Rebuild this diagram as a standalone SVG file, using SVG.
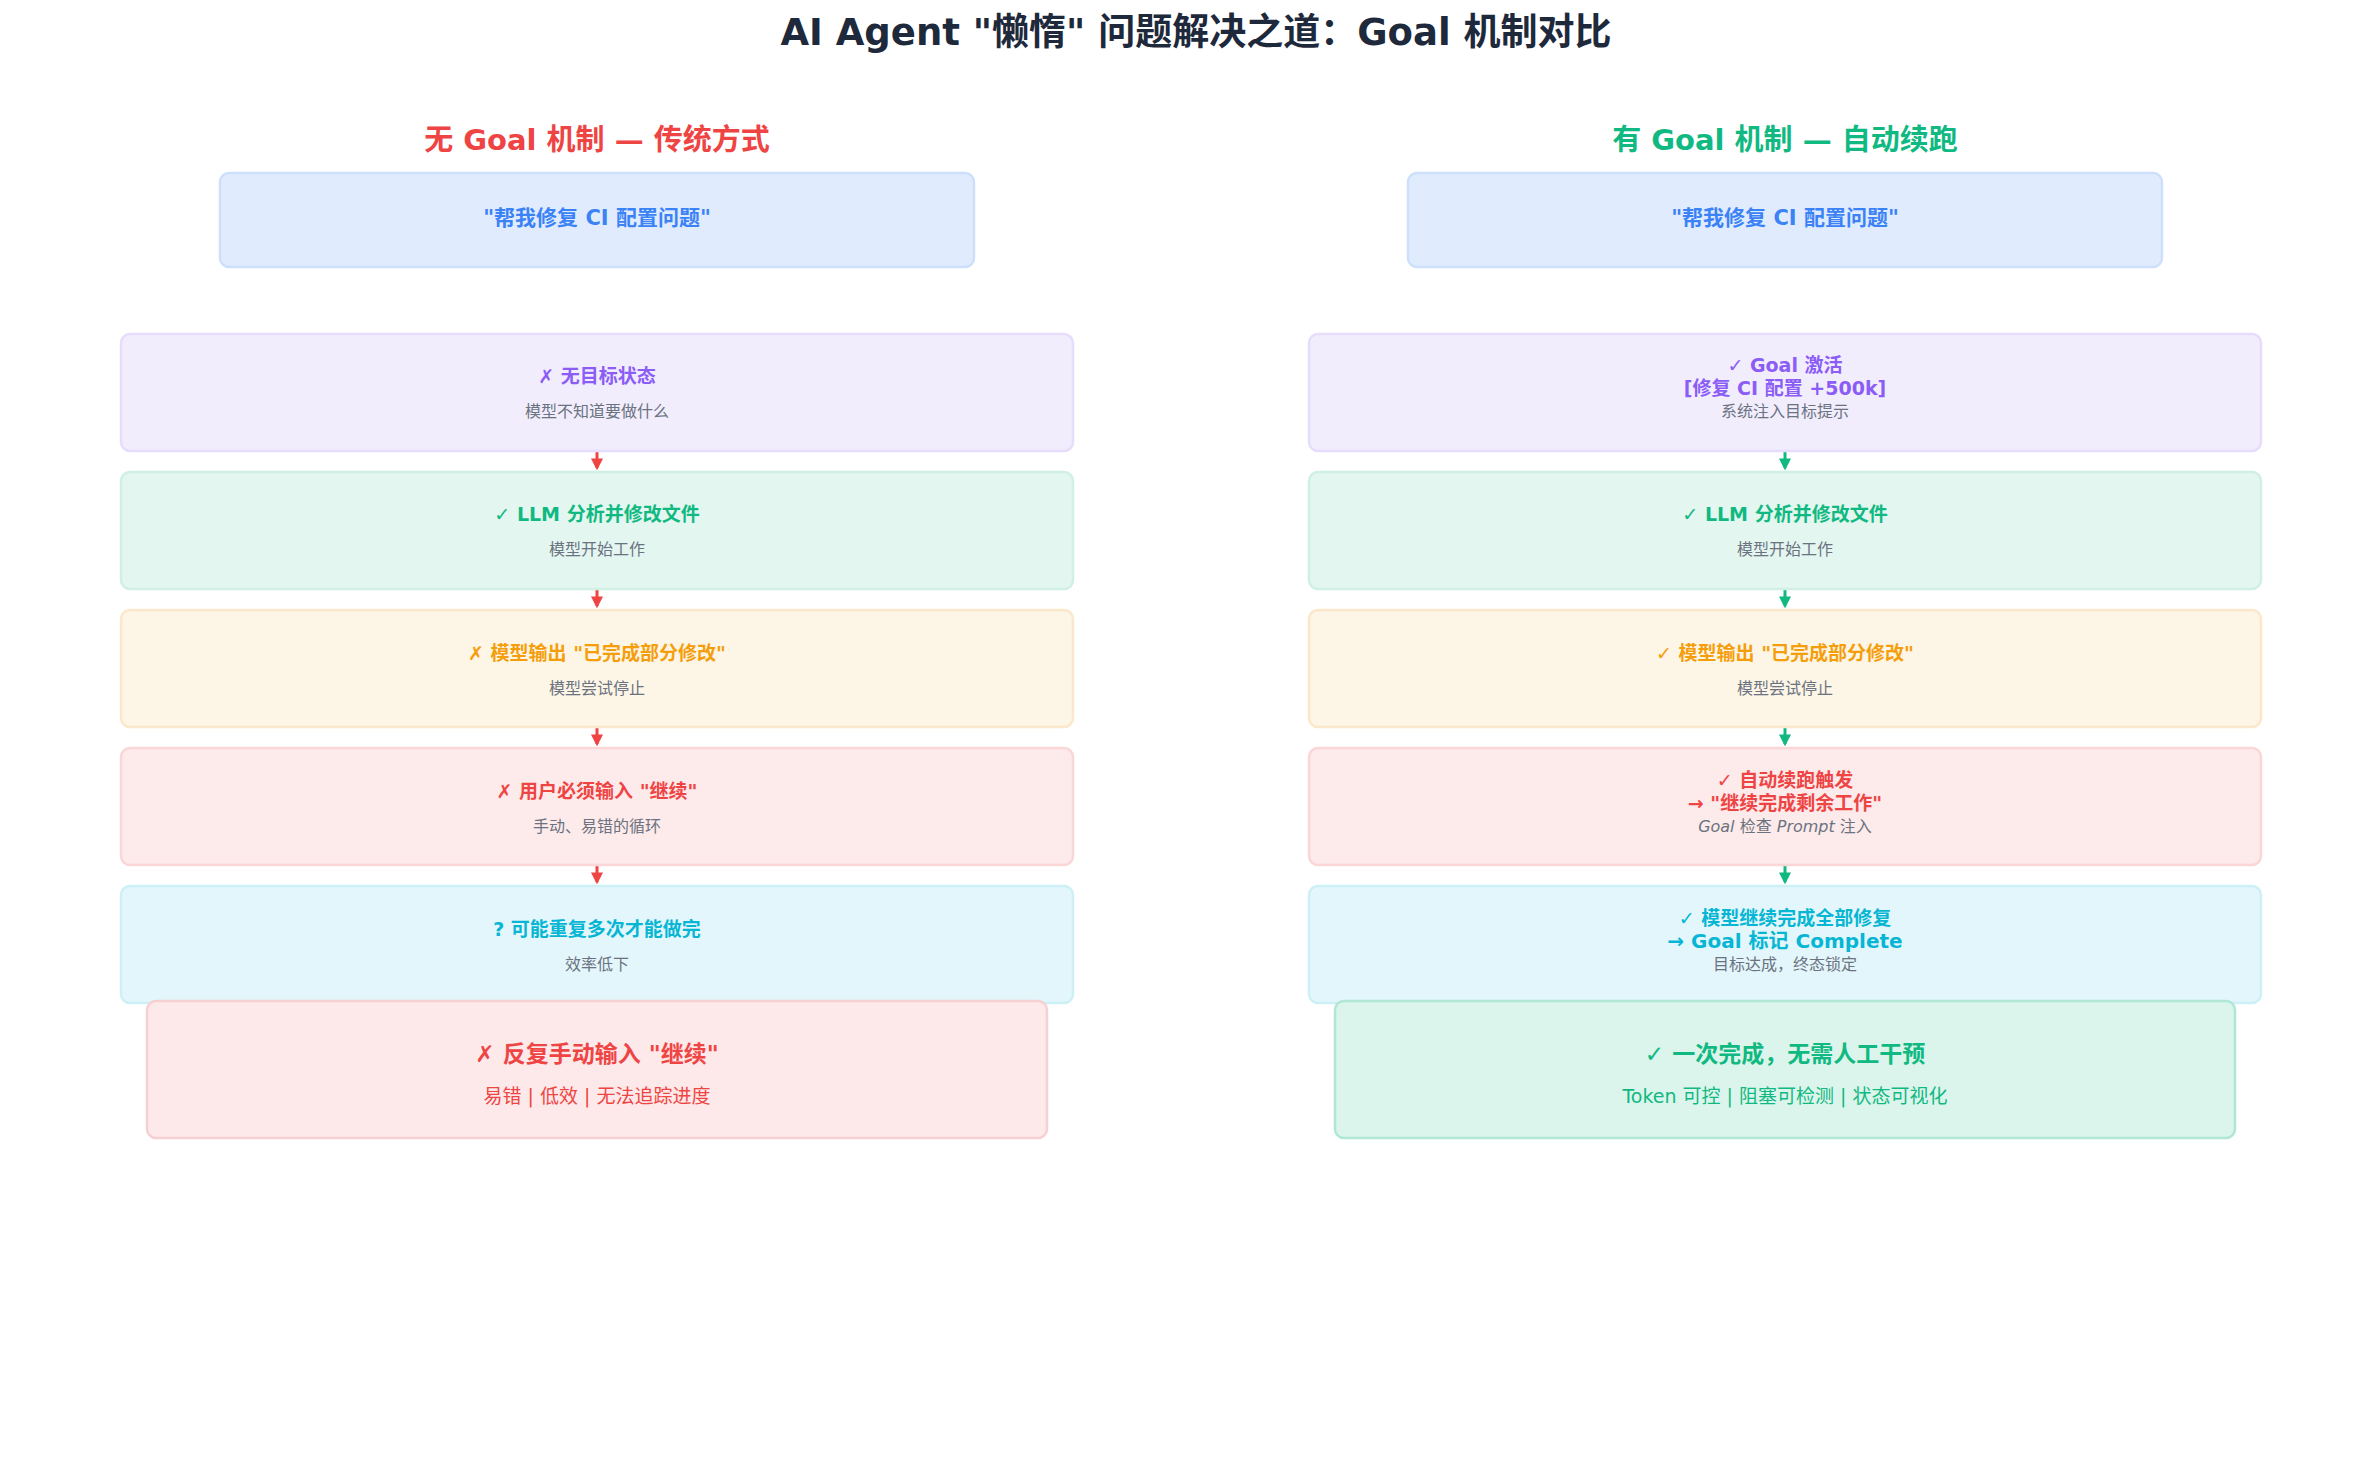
<svg xmlns="http://www.w3.org/2000/svg" width="2380" height="1480" viewBox="0 0 2380 1480">
<style>
text{font-family:"DejaVu Sans","Noto Sans CJK SC",sans-serif;text-anchor:middle;dominant-baseline:middle}
.t{font-weight:bold;font-size:19px}
.s{font-size:16px;fill:#6b7280}
.box{stroke-width:2.5;rx:9}
.blue{fill:#e0ecfd;stroke:#cddffb}
.pur{fill:#f1edfd;stroke:#e5ddfb}
.grn{fill:#e4f6f0;stroke:#cff0e3}
.org{fill:#fdf5e6;stroke:#fbe8cb}
.red{fill:#fdeaea;stroke:#fad6d6}
.cyn{fill:#e3f6fb;stroke:#ccf0f6}
.fred{fill:#fde9e9;stroke:#f6d0d3}
.fgrn{fill:#dcf5ec;stroke:#b0e6d6}
.ar{stroke-width:3;fill:none}
</style>
<defs>
<marker id="mr" viewBox="0 0 10 10" refX="8" refY="5" markerWidth="4" markerHeight="4" orient="auto"><path d="M0,0L10,5L0,10z" fill="#ef4444"/></marker>
<marker id="mg" viewBox="0 0 10 10" refX="8" refY="5" markerWidth="4" markerHeight="4" orient="auto"><path d="M0,0L10,5L0,10z" fill="#10b981"/></marker>
</defs>
<rect width="2380" height="1480" fill="#fff"/>
<text x="1196" y="34" style="font-size:37px;font-weight:bold;fill:#1e293b">AI Agent "懒惰" 问题解决之道：Goal 机制对比</text>
<text x="597" y="142" style="font-size:29px;font-weight:bold;fill:#ef4444">无 Goal 机制 — 传统方式</text>
<text x="1785" y="142" style="font-size:29px;font-weight:bold;fill:#10b981">有 Goal 机制 — 自动续跑</text>
<g id="connectors">
<line class="ar" x1="597" y1="452" x2="597" y2="468" stroke="#ef4444" marker-end="url(#mr)"/>
<line class="ar" x1="597" y1="590" x2="597" y2="606" stroke="#ef4444" marker-end="url(#mr)"/>
<line class="ar" x1="597" y1="728" x2="597" y2="744" stroke="#ef4444" marker-end="url(#mr)"/>
<line class="ar" x1="597" y1="866" x2="597" y2="882" stroke="#ef4444" marker-end="url(#mr)"/>
<line class="ar" x1="1785" y1="452" x2="1785" y2="468" stroke="#10b981" marker-end="url(#mg)"/>
<line class="ar" x1="1785" y1="590" x2="1785" y2="606" stroke="#10b981" marker-end="url(#mg)"/>
<line class="ar" x1="1785" y1="728" x2="1785" y2="744" stroke="#10b981" marker-end="url(#mg)"/>
<line class="ar" x1="1785" y1="866" x2="1785" y2="882" stroke="#10b981" marker-end="url(#mg)"/>
</g>
<g id="l-input"><rect class="box blue" x="220" y="173" width="754" height="94"/><text x="597" y="219" style="font-size:21px;font-weight:bold;fill:#3b82f6">"帮我修复 CI 配置问题"</text></g>
<g id="l1"><rect class="box pur" x="121" y="334" width="952" height="117"/><text class="t" x="597" y="377" fill="#8b5cf6">✗ 无目标状态</text><text class="s" x="597" y="412">模型不知道要做什么</text></g>
<g id="l2"><rect class="box grn" x="121" y="472" width="952" height="117"/><text class="t" x="597" y="515" fill="#10b981">✓ LLM 分析并修改文件</text><text class="s" x="597" y="550">模型开始工作</text></g>
<g id="l3"><rect class="box org" x="121" y="610" width="952" height="117"/><text class="t" x="597" y="654" fill="#f59e0b">✗ 模型输出 "已完成部分修改"</text><text class="s" x="597" y="689">模型尝试停止</text></g>
<g id="l4"><rect class="box red" x="121" y="748" width="952" height="117"/><text class="t" x="597" y="792" fill="#ef4444">✗ 用户必须输入 "继续"</text><text class="s" x="597" y="827">手动、易错的循环</text></g>
<g id="l5"><rect class="box cyn" x="121" y="886" width="952" height="117"/><text class="t" x="597" y="930" fill="#06b6d4">? 可能重复多次才能做完</text><text class="s" x="597" y="965">效率低下</text></g>
<g id="l-final"><rect class="box fred" x="147" y="1001" width="900" height="137"/><text x="597" y="1055" style="font-size:23px;font-weight:bold;fill:#ef4444">✗ 反复手动输入 "继续"</text><text x="597" y="1097" style="font-size:19px;fill:#ef4444">易错 | 低效 | 无法追踪进度</text></g>

<g id="r-input"><rect class="box blue" x="1408" y="173" width="754" height="94"/><text x="1785" y="219" style="font-size:21px;font-weight:bold;fill:#3b82f6">"帮我修复 CI 配置问题"</text></g>
<g id="r1"><rect class="box pur" x="1309" y="334" width="952" height="117"/><text class="t" x="1785" y="366" fill="#8b5cf6">✓ Goal 激活</text><text class="t" x="1785" y="389" fill="#8b5cf6">[修复 CI 配置 +500k]</text><text class="s" x="1785" y="412">系统注入目标提示</text></g>
<g id="r2"><rect class="box grn" x="1309" y="472" width="952" height="117"/><text class="t" x="1785" y="515" fill="#10b981">✓ LLM 分析并修改文件</text><text class="s" x="1785" y="550">模型开始工作</text></g>
<g id="r3"><rect class="box org" x="1309" y="610" width="952" height="117"/><text class="t" x="1785" y="654" fill="#f59e0b">✓ 模型输出 "已完成部分修改"</text><text class="s" x="1785" y="689">模型尝试停止</text></g>
<g id="r4"><rect class="box red" x="1309" y="748" width="952" height="117"/><text class="t" x="1785" y="781" fill="#ef4444">✓ 自动续跑触发</text><text class="t" x="1785" y="804" fill="#ef4444">→ "继续完成剩余工作"</text><text class="s" x="1785" y="827"><tspan font-style="italic">Goal</tspan> 检查 <tspan font-style="italic">Prompt</tspan> 注入</text></g>
<g id="r5"><rect class="box cyn" x="1309" y="886" width="952" height="117"/><text class="t" x="1785" y="919" fill="#06b6d4">✓ 模型继续完成全部修复</text><text class="t" x="1785" y="942" fill="#06b6d4" style="font-size:20px">→ Goal 标记 Complete</text><text class="s" x="1785" y="965">目标达成，终态锁定</text></g>
<g id="r-final"><rect class="box fgrn" x="1335" y="1001" width="900" height="137"/><text x="1785" y="1055" style="font-size:23px;font-weight:bold;fill:#10b981">✓ 一次完成，无需人工干预</text><text x="1785" y="1097" style="font-size:19px;fill:#10b981">Token 可控 | 阻塞可检测 | 状态可视化</text></g>
</svg>
